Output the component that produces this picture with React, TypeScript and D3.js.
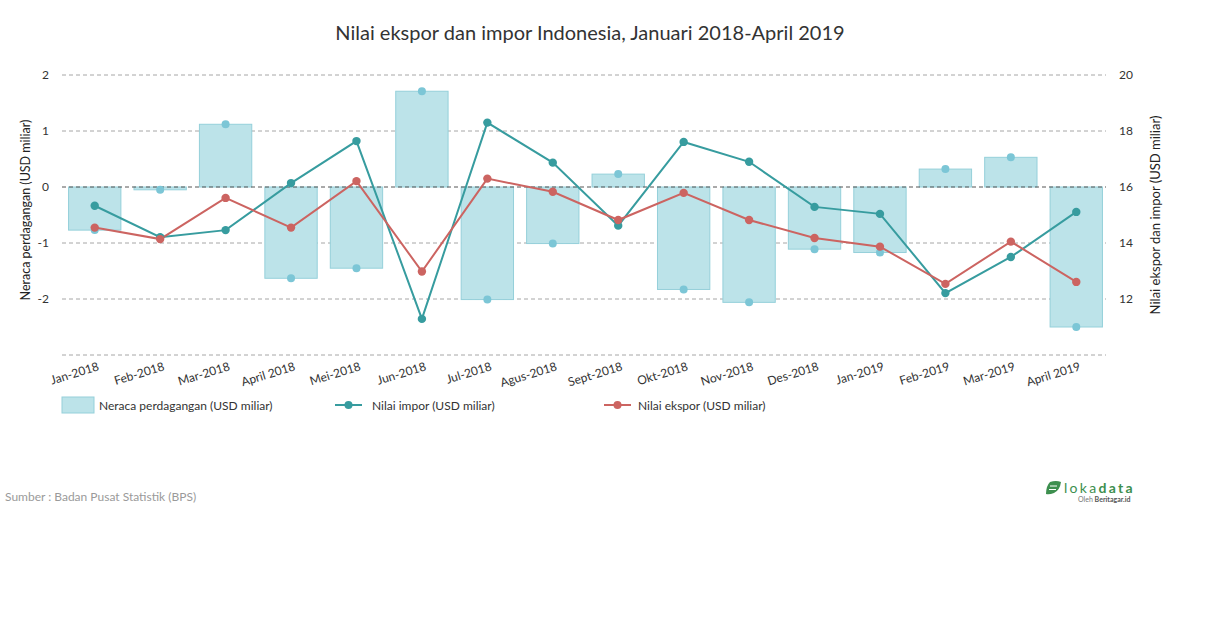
import React from "react";
import * as d3 from "d3";

const months = ["Jan-2018","Feb-2018","Mar-2018","April 2018","Mei-2018","Jun-2018","Jul-2018","Agus-2018","Sept-2018","Okt-2018","Nov-2018","Des-2018","Jan-2019","Feb-2019","Mar-2019","April 2019"];
const balance = [-0.77,-0.05,1.12,-1.63,-1.45,1.71,-2.01,-1.01,0.23,-1.83,-2.06,-1.11,-1.17,0.32,0.53,-2.5];
const imports = [15.33,14.21,14.46,16.14,17.64,11.29,18.30,16.87,14.62,17.61,16.90,15.29,15.04,12.21,13.50,15.11];
const exports = [14.55,14.14,15.61,14.55,16.21,12.98,16.30,15.83,14.82,15.79,14.82,14.18,13.87,12.54,14.05,12.61];
const leftTicks = [2,1,0,-1,-2];
const rightTicks = [20,18,16,14,12];

const FONT = "Lato, 'Open Sans', sans-serif";
const C_BAR = "#bce3e9";
const C_BAR_STROKE = "#95d0da";
const C_BAR_DOT = "#7cc6d6";
const C_IMP = "#379c9f";
const C_EXP = "#cc6461";

export default function App() {
  const W = 1210, H = 628;
  const x0 = 62, x1 = 1106;
  const x = d3.scaleBand<string>().domain(months).range([x0, 1109]).paddingInner(0.2).paddingOuter(0.1);
  const yL = d3.scaleLinear().domain([-3, 2]).range([355, 75]);
  const yR = d3.scaleLinear().domain([10, 20]).range([355, 75]);
  const cx = (m: string) => (x(m) as number) + x.bandwidth() / 2;
  const lineGen = d3.line<number>().x((_, i) => cx(months[i])).y((v) => yR(v));
  const grid = [-3, -2, -1, 1, 2];

  return (
    <svg width={W} height={H} style={{ position: "absolute", left: 0, top: 0, fontFamily: FONT }}>
      <rect width={W} height={H} fill="#fff" />
      <text x={590} y={40} textAnchor="middle" fontSize={20} fill="#333">
        Nilai ekspor dan impor Indonesia, Januari 2018-April 2019
      </text>
      {grid.map((g) => (
        <line key={g} x1={x0} x2={x1} y1={yL(g)} y2={yL(g)} stroke="#a6a6a6" strokeDasharray="4,3" strokeWidth={1} />
      ))}
      {months.map((m, i) => {
        const v = balance[i];
        const y = Math.min(yL(v), yL(0));
        const h = Math.abs(yL(v) - yL(0));
        return (
          <rect key={m} x={x(m)} y={y} width={x.bandwidth()} height={h} fill={C_BAR} stroke={C_BAR_STROKE} strokeWidth={1} />
        );
      })}
      <line x1={x0} x2={x1} y1={yL(0)} y2={yL(0)} stroke="#555" strokeDasharray="4,3" strokeWidth={1} />
      {months.map((m, i) => (
        <circle key={m} cx={cx(m)} cy={yL(balance[i])} r={4} fill={C_BAR_DOT} />
      ))}
      <path d={lineGen(imports) || ""} fill="none" stroke={C_IMP} strokeWidth={2} />
      <path d={lineGen(exports) || ""} fill="none" stroke={C_EXP} strokeWidth={2} />
      {months.map((m, i) => (
        <circle key={"i" + m} cx={cx(m)} cy={yR(imports[i])} r={4.2} fill={C_IMP} />
      ))}
      {months.map((m, i) => (
        <circle key={"e" + m} cx={cx(m)} cy={yR(exports[i])} r={4.2} fill={C_EXP} />
      ))}
      {leftTicks.map((t) => (
        <text key={t} x={49} y={yL(t) + 4} textAnchor="end" fontSize={12} fill="#333">{t}</text>
      ))}
      {rightTicks.map((t) => (
        <text key={t} x={1119} y={yR(t) + 4} textAnchor="start" fontSize={12} fill="#333">{t}</text>
      ))}
      <text transform={`translate(30,210) rotate(-90)`} textAnchor="middle" fontSize={12.5} fill="#222">
        Neraca perdagangan (USD miliar)
      </text>
      <text transform={`translate(1160,215) rotate(-90)`} textAnchor="middle" fontSize={13} fill="#222">
        Nilai ekspor dan impor (USD miliar)
      </text>
      {months.map((m) => (
        <text key={m} transform={`translate(${cx(m) + 5},${370}) rotate(-17)`} textAnchor="end" fontSize={12} fill="#333">
          {m}
        </text>
      ))}
      {/* legend */}
      <rect x={62} y={397} width={32} height={16} fill={C_BAR} stroke={C_BAR_STROKE} />
      <text x={99} y={409.5} fontSize={12} fill="#333">Neraca perdagangan (USD miliar)</text>
      <line x1={335} x2={362} y1={405} y2={405} stroke={C_IMP} strokeWidth={2} />
      <circle cx={348.5} cy={405} r={4} fill={C_IMP} />
      <text x={372} y={409.5} fontSize={12} fill="#333">Nilai impor (USD miliar)</text>
      <line x1={604} x2={631} y1={405} y2={405} stroke={C_EXP} strokeWidth={2} />
      <circle cx={617.5} cy={405} r={4} fill={C_EXP} />
      <text x={638} y={409.5} fontSize={12} fill="#333">Nilai ekspor (USD miliar)</text>
      {/* source */}
      <text x={5} y={501} fontSize={12} fill="#9a9a9a">Sumber : Badan Pusat Statistik (BPS)</text>
      {/* logo */}
      <g>
        <path d="M1050,482 Q1056,480 1061,482 Q1060,490 1054,493 Q1049,495 1046,494 Q1046,486 1050,482 Z" fill="#3d8f4f" />
        <line x1={1050} x2={1057} y1={486} y2={486} stroke="#fff" strokeWidth={1} />
        <line x1={1049} x2={1056} y1={489.5} y2={489.5} stroke="#fff" strokeWidth={1} />
        <text x={1064} y={493} fontSize={14} fill="#3d8f4f" letterSpacing={2.3}>loka<tspan fontWeight="bold">data</tspan></text>
        <text x={1078} y={502} fontSize={7} fill="#777">Oleh <tspan fontWeight="bold" fill="#555">Beritagar.id</tspan></text>
      </g>
    </svg>
  );
}
